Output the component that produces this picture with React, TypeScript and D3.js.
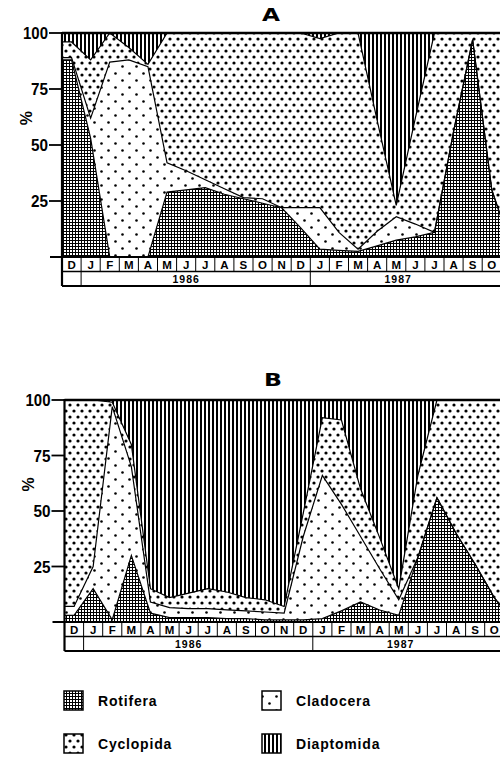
import React from 'react';
import * as d3 from 'd3';

// ---------- data ----------
const monthLabels = ['D','J','F','M','A','M','J','J','A','S','O','N','D','J','F','M','A','M','J','J','A','S','O','N'];
const yearLabels = ['1986', '1987'];
const yearStartMonth = [1, 13];
const yTickValues = [25, 50, 75, 100];
const groups = ['Rotifera', 'Cladocera', 'Cyclopida', 'Diaptomida'];

// Panel A (% composition per monthly sample)
const rotiferaA = [88, 53, 0, 0, 0, 29, 30, 31, 28, 26, 24, 22, 13, 3.5, 3, 2.5, 5, 7.5, 9, 11, 56, 97, 30, 5];
const cladoceraA = [1, 9, 87, 88, 85, 13, 8.5, 3.5, 2.5, 0.5, 2, 0, 9, 18.5, 8, 1, 6.5, 10.5, 5.7, 0, 0, 0, 0, 0];
const cyclopidaA = [7, 26, 13, 5.5, 1, 58, 61.5, 65.5, 69.5, 73.5, 74, 78, 78, 75.5, 89, 96.5, 49.5, 5, 47.3, 89, 44, 3, 70, 95];
const diaptomidaA = [4, 12, 0, 6.5, 14, 0, 0, 0, 0, 0, 0, 0, 0, 2.5, 0, 0, 39, 77, 38, 0, 0, 0, 0, 0];

// Panel B
const rotiferaB = [3, 15, 1, 30, 4, 2, 2, 2, 1.5, 1.5, 1, 1, 1, 1.5, 5, 9, 5.4, 3, 29, 56, 40, 26, 11, 0];
const cladoceraB = [4, 10, 96, 40, 5, 4.5, 4, 4, 4, 3.5, 3.5, 3, 37.5, 64.5, 48, 29.5, 18.6, 7, 0, 0, 0, 0, 0, 0];
const cyclopidaB = [93, 75, 2, 10, 6, 4.5, 7, 9, 8, 6, 5.5, 3, 10.5, 26, 38, 21.5, 14, 5, 37, 44, 60, 74, 89, 100];
const diaptomidaB = [0, 0, 1, 20, 85, 89, 87, 85, 86.5, 89, 90, 93, 51, 8, 9, 40, 62, 85, 34, 0, 0, 0, 0, 0];

// ---------- layout ----------
const W = 500;
const H = 759;
const colW = 19.1;
const FONT = '"Liberation Sans", Arial, Helvetica, sans-serif';
const patternIds = ['pRot', 'pClad', 'pCyc', 'pDia'];

function Panel(props: {
  id: string; left: number; yTop: number; yBase: number; title: string;
  titleX: number; titleY: number; series: number[][]; yearAt: number[];
}) {
  const { id, left, yTop, yBase, title, titleX, titleY, series, yearAt } = props;
  const n = monthLabels.length;
  const x = d3.scaleLinear().domain([0, n]).range([left, left + n * colW]);
  const y = d3.scaleLinear().domain([0, 100]).range([yBase, yTop]);

  const rows = monthLabels.map((m, i) => {
    const r: any = { t: i + 0.5 };
    groups.forEach((g, k) => (r[g] = series[k][i]));
    return r;
  });
  const data = [{ ...rows[0], t: 0 }, ...rows];
  const stacked = d3.stack<any>().keys(groups)(data);
  const area = d3.area<any>().x((d) => x(d.data.t)).y0((d) => y(d[0])).y1((d) => y(d[1]));
  const line = d3.line<any>().x((d) => x(d.data.t)).y((d) => y(d[1]));

  const rowH = 14.5;
  const monthTop = yBase;
  const yearTop = yBase + rowH;
  const yearBot = yBase + 2 * rowH;
  const clipId = 'clip' + id;
  const visibleMonths = monthLabels.map((m, i) => ({ m, i })).filter((d) => x(d.i + 0.5) + 5 < W);

  return (
    <g>
      <defs>
        <clipPath id={clipId}>
          <rect x={left} y={yTop} width={W - left} height={yBase - yTop} />
        </clipPath>
      </defs>
      <text x={titleX} y={titleY} textAnchor="middle" fontFamily='"DejaVu Sans", sans-serif'
        fontWeight={900} fontSize={17} textLength={18} lengthAdjust="spacingAndGlyphs">{title}</text>
      <g clipPath={`url(#${clipId})`}>
        {stacked.map((s, k) => (
          <path key={groups[k]} d={area(s) || ''} fill={`url(#${patternIds[k]})`} />
        ))}
        {stacked.slice(0, 3).map((s, k) => (
          <path key={'l' + k} d={line(s) || ''} fill="none" stroke="#000" strokeWidth={1.2} />
        ))}
      </g>
      {/* frame */}
      <line x1={left} x2={W} y1={yTop} y2={yTop} stroke="#000" strokeWidth={2.5} />
      <line x1={left} x2={left} y1={yTop - 1} y2={yearBot} stroke="#000" strokeWidth={2.2} />
      <line x1={left - 12} x2={W} y1={yBase} y2={yBase} stroke="#000" strokeWidth={2.2} />
      {/* y ticks */}
      {yTickValues.map((v) => (
        <g key={v}>
          <line x1={left - 13} x2={left} y1={y(v)} y2={y(v)} stroke="#000" strokeWidth={1.8} />
          <text x={left - 14} y={y(v)} dy="0.36em" textAnchor="end" fontFamily={FONT} fontWeight={700}
            fontSize={17} textLength={v === 100 ? 25 : 17} lengthAdjust="spacingAndGlyphs">{v}</text>
        </g>
      ))}
      <text transform={`translate(${left - 36},${y(62)}) rotate(-90)`} textAnchor="middle" dy="0.36em"
        fontFamily={FONT} fontWeight={700} fontSize={16}>%</text>
      {/* month row */}
      {monthLabels.map((m, i) => (
        <line key={'ms' + i} x1={x(i + 1)} x2={x(i + 1)} y1={monthTop} y2={yearTop} stroke="#000" strokeWidth={1} />
      ))}
      {visibleMonths.map(({ m, i }) => (
        <text key={'m' + i} x={x(i + 0.5)} y={monthTop + rowH / 2 + 0.5} dy="0.36em" textAnchor="middle"
          fontFamily={FONT} fontWeight={700} fontSize={11.5}>{m}</text>
      ))}
      <line x1={left} x2={W} y1={yearTop} y2={yearTop} stroke="#000" strokeWidth={1.3} />
      {/* year row */}
      {yearStartMonth.map((s) => (
        <line key={'y' + s} x1={x(s)} x2={x(s)} y1={yearTop} y2={yearBot} stroke="#000" strokeWidth={1} />
      ))}
      {yearLabels.map((lab, i) => (
        <text key={lab} x={x(yearAt[i])} y={yearTop + rowH / 2 + 0.5} dy="0.36em" textAnchor="middle"
          fontFamily={FONT} fontWeight={700} fontSize={10.5} letterSpacing={1}>{lab}</text>
      ))}
      <line x1={left} x2={W} y1={yearBot} y2={yearBot} stroke="#000" strokeWidth={1.8} />
    </g>
  );
}

export default function App() {
  const legendItems = [
    { name: groups[0], p: patternIds[0], x: 64, y: 691 },
    { name: groups[1], p: patternIds[1], x: 262, y: 691 },
    { name: groups[2], p: patternIds[2], x: 64, y: 734 },
    { name: groups[3], p: patternIds[3], x: 262, y: 734 },
  ];
  return (
    <svg width={W} height={H} style={{ position: 'absolute', left: 0, top: 0, background: '#fff' }}>
      <defs>
        <pattern id="pRot" width={3} height={3} patternUnits="userSpaceOnUse">
          <rect width={3} height={3} fill="#fff" />
          <rect width={3} height={1} fill="#000" />
          <rect width={1} height={3} fill="#000" />
        </pattern>
        <pattern id="pClad" width={14} height={14} patternUnits="userSpaceOnUse">
          <rect width={14} height={14} fill="#fff" />
          <circle cx={3.5} cy={3.5} r={1.3} fill="#000" />
          <circle cx={10.5} cy={10.5} r={1.3} fill="#000" />
        </pattern>
        <pattern id="pCyc" width={8} height={12} patternUnits="userSpaceOnUse">
          <rect width={8} height={12} fill="#fff" />
          <circle cx={2} cy={3} r={1.6} fill="#000" />
          <circle cx={6} cy={9} r={1.6} fill="#000" />
        </pattern>
        <pattern id="pDia" width={4} height={4} patternUnits="userSpaceOnUse">
          <rect width={4} height={4} fill="#fff" />
          <rect width={2} height={4} fill="#000" />
        </pattern>
      </defs>
      <rect width={W} height={H} fill="#fff" />
      <Panel id="A" left={62} yTop={33} yBase={257} title="A" titleX={271} titleY={21}
        series={[rotiferaA, cladoceraA, cyclopidaA, diaptomidaA]} yearAt={[6.5, 17.6]} />
      <Panel id="B" left={64.5} yTop={400} yBase={622} title="B" titleX={273} titleY={386}
        series={[rotiferaB, cladoceraB, cyclopidaB, diaptomidaB]} yearAt={[6.5, 17.6]} />
      {legendItems.map((it) => (
        <g key={it.name}>
          <rect x={it.x} y={it.y} width={19} height={19} fill={`url(#${it.p})`} stroke="#000" strokeWidth={1.5} />
          <text x={it.x + 34} y={it.y + 10} dy="0.36em" fontFamily={FONT} fontWeight={700} fontSize={14}
            letterSpacing={0.8}>{it.name}</text>
        </g>
      ))}
    </svg>
  );
}
